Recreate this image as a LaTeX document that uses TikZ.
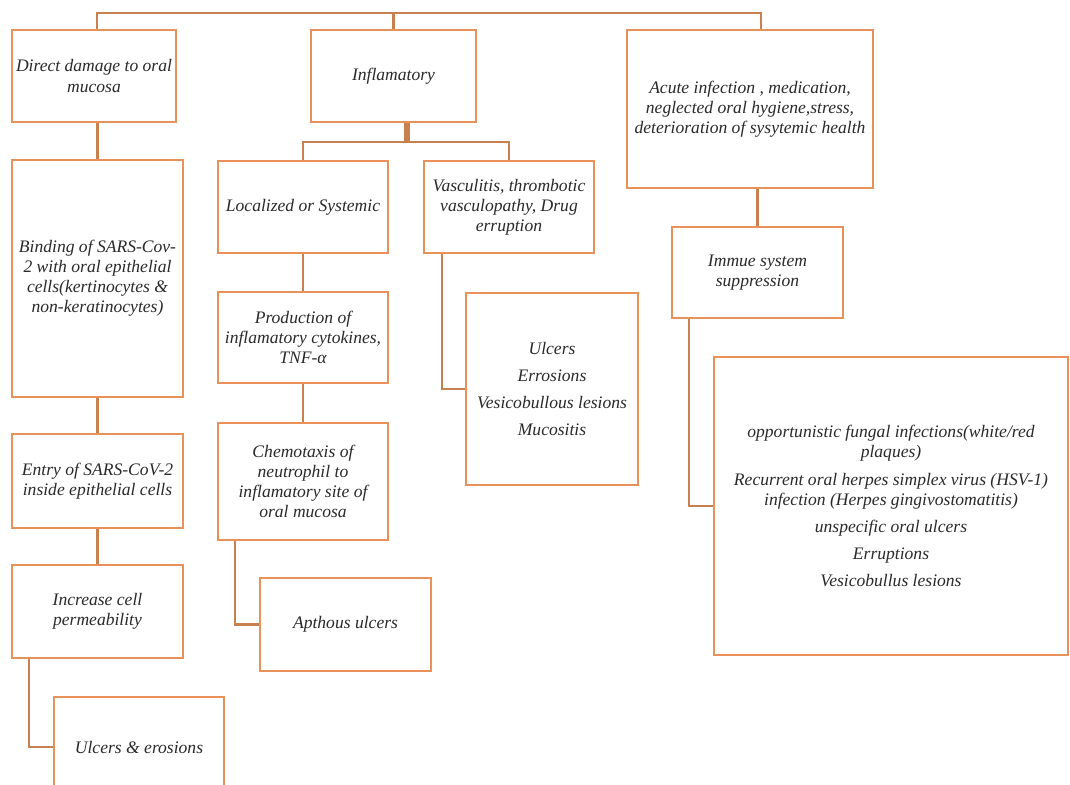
\documentclass[tikz,border=0pt]{standalone}
\usepackage{fontspec}
\setmainfont{Liberation Serif}
\definecolor{boxorange}{HTML}{E8915A}
\definecolor{linkbrown}{HTML}{C8804F}
\definecolor{textgray}{HTML}{2A2A2A}

\begin{document}
\begin{tikzpicture}[x=0.02cm, y=-0.02cm,
    box/.style={draw=boxorange, line width=1.5pt, fill=white, align=center,
      inner sep=1pt, text=textgray, font=\itshape\fontsize{10}{11.4}\selectfont},
    link/.style={draw=linkbrown, line width=1.3pt}]
        \useasboundingbox (0,0) rectangle (1070,784);
        \clip (0,0) rectangle (1070,784);

        \node[box, minimum width=3.28cm, minimum height=1.84cm] (direct) at (94,76)
          {Direct damage to oral\\mucosa};
        \node[box, minimum width=3.30cm, minimum height=1.84cm] (infl) at (393.5,76)
          {Inflamatory};
        \node[box, minimum width=4.92cm, minimum height=3.16cm] (acute) at (750,109)
          {Acute infection , medication,\\neglected oral hygiene,stress,\\deterioration of sysytemic health};

        \node[box, minimum width=3.42cm, minimum height=4.74cm] (binding) at (97.5,278.5)
          {Binding of SARS-Cov-\\2 with oral epithelial\\cells(kertinocytes \&\\non-keratinocytes)};
        \node[box, minimum width=3.42cm, minimum height=1.88cm] (entry) at (97.5,481)
          {Entry of SARS-CoV-2\\inside epithelial cells};
        \node[box, minimum width=3.42cm, minimum height=1.86cm] (incr) at (97.5,611.5)
          {Increase cell\\permeability};
        \node[box, minimum width=3.40cm, minimum height=2.00cm] (ulcero) at (139,747)
          {Ulcers \& erosions};

        \node[box, minimum width=3.40cm, minimum height=1.84cm] (local) at (303,207)
          {Localized or Systemic};
        \node[box, minimum width=3.40cm, minimum height=1.82cm] (prod) at (303,337.5)
          {Production of\\inflamatory cytokines,\\TNF-α};
        \node[box, minimum width=3.40cm, minimum height=2.34cm] (chemo) at (303,481.5)
          {Chemotaxis of\\neutrophil to\\inflamatory site of\\oral mucosa};
        \node[box, minimum width=3.42cm, minimum height=1.86cm] (apth) at (345.5,624.5)
          {Apthous ulcers};

        \node[box, minimum width=3.40cm, minimum height=1.84cm] (vasc) at (509,207)
          {Vasculitis, thrombotic\\vasculopathy, Drug\\erruption};
        \node[box, minimum width=3.44cm, minimum height=3.84cm] (ulcl) at (552,389)
          {Ulcers\\[4pt]Errosions\\[4pt]Vesicobullous lesions\\[4pt]Mucositis};

        \node[box, minimum width=3.42cm, minimum height=1.82cm] (immue) at (757.5,272.5)
          {Immue system\\suppression};
        \node[box, minimum width=7.08cm, minimum height=5.96cm] (oppo) at (891,506)
          {opportunistic fungal infections(white/red\\plaques)\\[4pt]Recurrent oral herpes simplex virus (HSV-1)\\infection (Herpes gingivostomatitis)\\[4pt]unspecific oral ulcers\\[4pt]Erruptions\\[4pt]Vesicobullus lesions};

        \coordinate (busL) at (97,13);
        \coordinate (busR) at (761,13);
        \draw[link] (direct.north -| busL) |- (busR) -- (acute.north -| busR);
        \draw[link] (infl.north) -- (infl.north |- busL);

        \draw[link] (binding.north) -- (binding.north |- direct.south);
        \draw[link] (binding.south) -- (entry.north);
        \draw[link] (entry.south) -- (incr.north);
        \draw[link] ([xshift=-1.37cm]incr.south) |- (ulcero.west);

        \coordinate (split) at (407,142);
        \draw[link] ([xshift=-0.03cm]split) -- ([xshift=-0.03cm]split |- infl.south);
        \draw[link] ([xshift=0.03cm]split) -- ([xshift=0.03cm]split |- infl.south);
        \draw[link] (local.north) |- (split) -| (vasc.north);
        \draw[link] (local.south) -- (prod.north);
        \draw[link] (prod.south) -- (chemo.north);
        \draw[link] ([xshift=-1.36cm]chemo.south) |- (apth.west);
        \draw[link] ([xshift=-1.34cm]vasc.south) |- (ulcl.west);

        \draw[link] (immue.north) -- (immue.north |- acute.south);
        \draw[link] ([xshift=-1.37cm]immue.south) |- (oppo.west);
      \end{tikzpicture}
\end{document}
